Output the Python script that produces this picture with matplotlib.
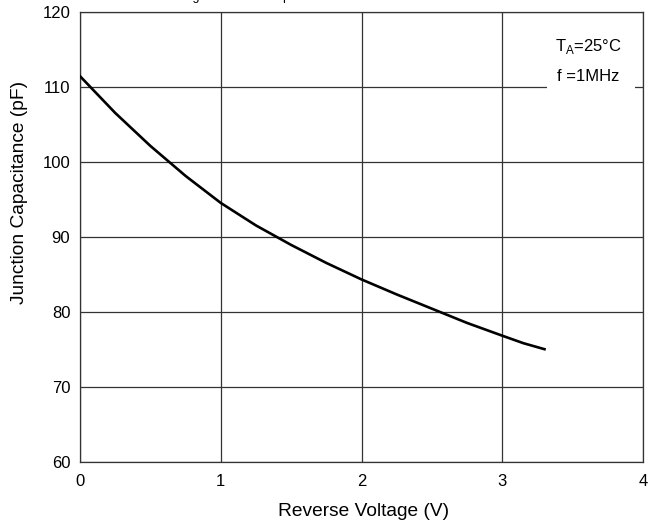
import matplotlib
matplotlib.use("Agg")
import matplotlib.pyplot as plt
from matplotlib.patches import Rectangle

plt.rcParams['font.family'] = ['Liberation Sans', 'DejaVu Sans']

# reverse voltage (V) vs junction capacitance (pF)
voltage = [0.0, 0.25, 0.5, 0.75, 1.0, 1.25, 1.5, 1.75, 2.0, 2.25, 2.5, 2.75, 3.0, 3.15, 3.3]
capacitance = [111.4, 106.5, 102.1, 98.1, 94.5, 91.5, 88.9, 86.5, 84.3, 82.3, 80.4, 78.5, 76.8, 75.8, 75.0]

x_ticks = [0, 1, 2, 3, 4]
y_ticks = [60, 70, 80, 90, 100, 110, 120]

fig = plt.figure(figsize=(6.49, 5.24), dpi=100)
ax = fig.add_axes([0.1233, 0.1189, 0.8675, 0.8588])

ax.plot(voltage, capacitance, color="black", linewidth=1.9, zorder=3)

ax.set_xlim(0, 4)
ax.set_ylim(60, 120)
ax.set_xticks(x_ticks)
ax.set_yticks(y_ticks)
ax.tick_params(length=0, labelsize=12)
ax.tick_params(axis="y", pad=7)
ax.tick_params(axis="x", pad=9)
ax.grid(True, color="#333333", linewidth=0.9)
for s in ax.spines.values():
    s.set_color("#333333")
    s.set_linewidth(0.9)

ax.set_xlabel("Reverse Voltage (V)", fontsize=13.8)
ax.set_ylabel("Junction Capacitance (pF)", fontsize=13.8)
ax.xaxis.set_label_coords(0.5044, -0.092)
ax.yaxis.set_label_coords(-0.093, 0.599)

# white patch hides the grid behind the conditions text
ax.add_patch(Rectangle((0.8295, 0.815), 0.156, 0.18, transform=ax.transAxes,
                       facecolor="white", edgecolor="none", zorder=2))
ax.text(0.8437, 0.912, "T$_\\mathregular{A}$=25°C", transform=ax.transAxes,
        fontsize=12, va="baseline", ha="left", zorder=4)
ax.text(0.847, 0.846, "f =1MHz", transform=ax.transAxes,
        fontsize=12, va="baseline", ha="left", zorder=4)

# title is cut off by the top edge, only descenders show
fig.text(0.280, 1.0, "Fig 3. Junction Capacitance", fontsize=9,
         va="baseline", ha="left")

fig.savefig("out.png", dpi=100)
